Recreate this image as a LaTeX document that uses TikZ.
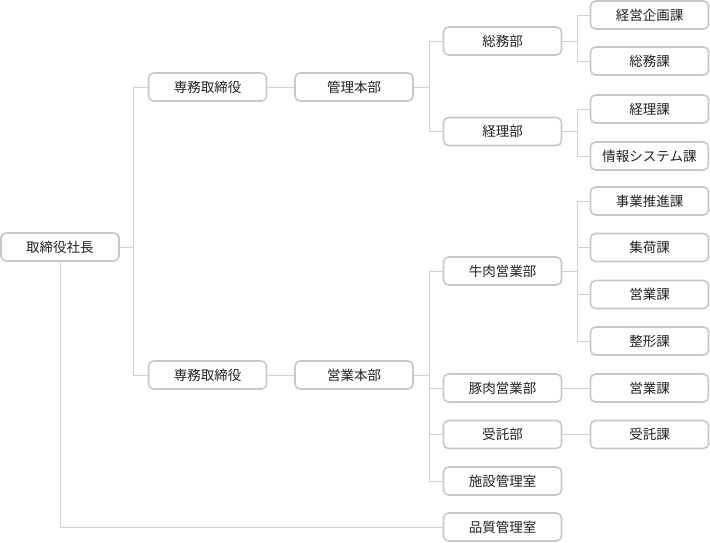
\documentclass[tikz,border=0pt]{standalone}
\usepackage{fontspec}
\newfontfamily\jp{Noto Sans CJK JP}
\definecolor{boxgray}{HTML}{C8C8C8}
\definecolor{linegray}{HTML}{D2D2D2}
\definecolor{txt}{HTML}{222222}
\begin{document}
\begin{tikzpicture}[x=1pt,y=-1pt,
  orgbox/.style={draw=boxgray, line width=1.6pt, rounded corners=5pt, fill=white,
    minimum width=118pt, minimum height=28pt, inner sep=0pt, text=txt,
    font=\jp\fontsize{13.5}{16}\selectfont},
  conn/.style={draw=linegray, line width=1pt}]
\useasboundingbox (0,0) rectangle (710,542);
% junction coordinates
\coordinate (j1) at (133,0);
\coordinate (j2) at (429,0);
\coordinate (j3) at (577,0);
% nodes
\node[orgbox] (ceo) at (60,247) {取締役社長};
\node[orgbox] (sen1) at (207.5,87) {専務取締役};
\node[orgbox] (sen2) at (207.5,375) {専務取締役};
\node[orgbox] (kanri) at (354,87) {管理本部};
\node[orgbox] (eigyo) at (354,375) {営業本部};
\node[orgbox] (soumu) at (502.5,41) {総務部};
\node[orgbox] (keiri) at (502.5,131.5) {経理部};
\node[orgbox] (gyuniku) at (502.5,271) {牛肉営業部};
\node[orgbox] (butaniku) at (502.5,388) {豚肉営業部};
\node[orgbox] (jutaku) at (502.5,434.5) {受託部};
\node[orgbox] (shisetsu) at (502.5,481) {施設管理室};
\node[orgbox] (hinshitsu) at (502.5,527) {品質管理室};
\node[orgbox] (keiei) at (649.5,15) {経営企画課};
\node[orgbox] (soumuka) at (649.5,61) {総務課};
\node[orgbox] (keirika) at (649.5,109) {経理課};
\node[orgbox] (joho) at (649.5,156) {情報システム課};
\node[orgbox] (jigyo) at (649.5,201) {事業推進課};
\node[orgbox] (shuka) at (649.5,247.5) {集荷課};
\node[orgbox] (eigyoka1) at (649.5,294.5) {営業課};
\node[orgbox] (seikei) at (649.5,341) {整形課};
\node[orgbox] (eigyoka2) at (649.5,388) {営業課};
\node[orgbox] (jutakuka) at (649.5,434.5) {受託課};
% connectors
\foreach \p/\c/\j in {ceo/sen1/j1, ceo/sen2/j1,
  kanri/soumu/j2, kanri/keiri/j2,
  eigyo/gyuniku/j2, eigyo/butaniku/j2, eigyo/jutaku/j2, eigyo/shisetsu/j2,
  soumu/keiei/j3, soumu/soumuka/j3, keiri/keirika/j3, keiri/joho/j3,
  gyuniku/jigyo/j3, gyuniku/shuka/j3, gyuniku/eigyoka1/j3, gyuniku/seikei/j3}{
  \draw[conn] (\p.east) -- (\p.east -| \j) |- (\c.west);
}
\draw[conn] (sen1) -- (kanri);
\draw[conn] (sen2) -- (eigyo);
\draw[conn] (butaniku) -- (eigyoka2);
\draw[conn] (jutaku) -- (jutakuka);
\draw[conn] (ceo.south) |- (hinshitsu.west);
\end{tikzpicture}
\end{document}
